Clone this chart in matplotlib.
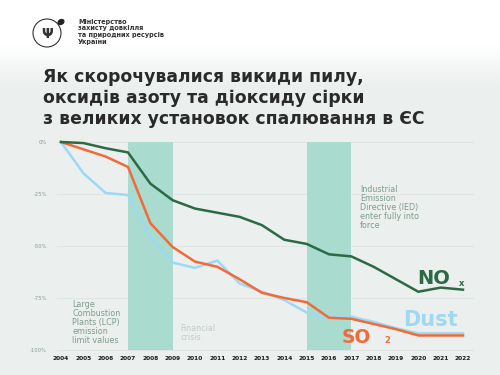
import matplotlib.pyplot as plt
import matplotlib.patches as mpatches
import numpy as np

plt.rcParams.update({
    "font.family": "DejaVu Sans",
    "axes.linewidth": 0,
})

# data (% change vs 2004)
years = list(range(2004, 2023))
nox = [0, -0.5, -3, -5, -20, -28, -32, -34, -36, -40, -47, -49, -54, -55, -60, -66, -72, -70, -71]
so2 = [0, -3.5, -7, -12, -39, -50.5, -57.5, -60, -66, -72.5, -75, -77, -84.5, -85, -87.5, -90, -93, -93, -93]
dust = [0, -15, -24.5, -25.5, -45.5, -58, -60.5, -57, -68, -72, -76, -82, -84.5, -84, -86.5, -89.5, -92, -92, -92]

y_ticks = [0, -25, -50, -75, -100]
y_labels = ["0%", "-25%", "-50%", "-75%", "-100%"]
spans = [(2007, 2009), (2015, 2017)]

title = "Як скорочувалися викиди пилу,\nоксидів азоту та діоксиду сірки\nз великих установок спалювання в ЄС"
ministry = "Міністерство\nзахисту довкілля\nта природних ресурсів\nУкраїни"

c_nox = "#2b6a44"
c_so2 = "#f26a3a"
c_dust = "#9fd8f2"
c_span = "#a9dccf"
c_note = "#7f9d8c"

W, H = 500, 375
fig = plt.figure(figsize=(5, 3.75), dpi=100)

# background: white header fading to light grey
bg = fig.add_axes([0, 0, 1, 1], zorder=-10)
grad = np.ones((H, 1, 3))
top = np.array([1.0, 1.0, 1.0])
low = np.array([0.925, 0.941, 0.935])
for i in range(H):
    t = np.clip((i - 45) / 40.0, 0, 1)
    grad[i, 0] = top * (1 - t) + low * t
bg.imshow(grad, aspect="auto", extent=[0, W, H, 0])
bg.set_xlim(0, W)
bg.set_ylim(H, 0)
bg.axis("off")

# logo
bg.add_patch(mpatches.Circle((47, 33), 14, fill=False, lw=0.8, ec="#333333"))
bg.add_patch(mpatches.Ellipse((61, 22), 6, 4.5, angle=-30, color="#222222"))
bg.text(47, 34, "Ψ", ha="center", va="center", fontsize=10, fontweight="bold", color="#333333")
bg.text(78, 32, ministry, ha="left", va="center", fontsize=4.7, fontweight="bold",
        color="#333333", linespacing=1.05)

# title
bg.text(43, 98, title, ha="left", va="center", fontsize=12.4, fontweight="bold",
        color="#2a2a2a", linespacing=1.2)

# chart axes
x0, x1 = 2003.8, 2022.5
y0, y1 = -101, 1
px_year = 22.35
left_px = 61 - 0.2 * px_year
right_px = 463 + 0.5 * px_year
top_px, bot_px = 142 - 2.08, 350 + 2.08
ax = fig.add_axes([left_px / W, 1 - bot_px / H, (right_px - left_px) / W, (bot_px - top_px) / H])
ax.set_facecolor("none")
ax.set_xlim(x0, x1)
ax.set_ylim(y0, y1)

for a, b in spans:
    ax.fill_between([a, b], -100, 0, color=c_span, lw=0, zorder=1)

for yt in y_ticks:
    ax.axhline(yt, color="#dde4e0", lw=0.6, zorder=0)

ax.plot(years, dust, color=c_dust, lw=1.8, zorder=3, solid_joinstyle="round")
ax.plot(years, so2, color=c_so2, lw=1.8, zorder=4, solid_joinstyle="round")
ax.plot(years, nox, color=c_nox, lw=1.8, zorder=5, solid_joinstyle="round")

ax.set_yticks(y_ticks)
ax.set_yticklabels(y_labels, fontsize=3.8, color="#8a9a90")
ax.set_xticks(years)
ax.set_xticklabels([str(y) for y in years], fontsize=4.2, fontweight="bold", color="#1a1a1a")
ax.tick_params(axis="both", length=0)
ax.tick_params(axis="y", pad=7)
ax.tick_params(axis="x", pad=3)
for s in ax.spines.values():
    s.set_visible(False)

# notes
ax.text(2004.5, -76, "Large\nCombustion\nPlants (LCP)\nemission\nlimit values", ha="left", va="top",
        fontsize=5.8, color=c_note, linespacing=1.0)
ax.text(2009.35, -87.5, "Financial\ncrisis", ha="left", va="top", fontsize=5.8,
        color="#c3cbc7", linespacing=1.0)
ax.text(2017.4, -20.5, "Industrial\nEmission\nDirective (IED)\nenter fully into\nforce", ha="left", va="top",
        fontsize=5.8, color=c_note, linespacing=1.0)

# series labels
ax.text(2019.95, -65.5, "NO", ha="left", va="center", fontsize=14, fontweight="bold", color=c_nox)
ax.text(2021.8, -68, "x", ha="left", va="center", fontsize=6, fontweight="bold", color=c_nox)
ax.text(2019.3, -85.5, "Dust", ha="left", va="center", fontsize=15, fontweight="bold", color=c_dust)
ax.text(2016.55, -93.8, "SO", ha="left", va="center", fontsize=13.5, fontweight="bold", color=c_so2)
ax.text(2018.5, -95.5, "2", ha="left", va="center", fontsize=6, fontweight="bold", color=c_so2)

fig.savefig("out.png", dpi=100)
